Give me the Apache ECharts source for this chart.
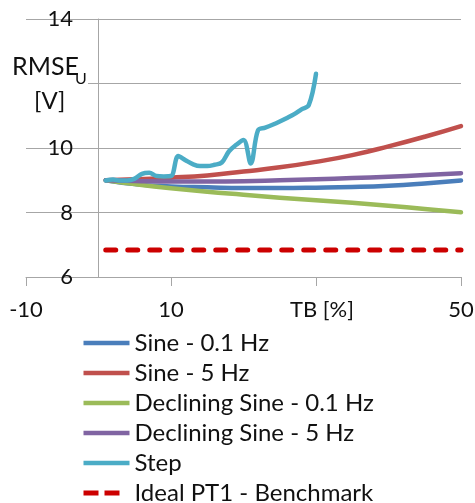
<!DOCTYPE html>
<html>
<head>
<meta charset="utf-8">
<script src="https://cdn.jsdelivr.net/npm/echarts@6/dist/echarts.min.js"></script>
<style>
  html, body { margin: 0; padding: 0; background: #fff; }
  #chart { width: 475px; height: 503px; }
</style>
</head>
<body>
<div id="chart"></div>
<script>
// TB [%] sample positions for the sine-type test signals
const tb = [1, 5, 10, 15, 20, 25, 30, 35, 40, 45, 50];
const sine01 = [9.0, 8.88, 8.81, 8.78, 8.76, 8.76, 8.77, 8.79, 8.83, 8.90, 8.99];
const sine5 = [9.0, 9.03, 9.08, 9.15, 9.27, 9.40, 9.57, 9.78, 10.05, 10.35, 10.68];
const declSine01 = [9.0, 8.88, 8.75, 8.64, 8.55, 8.46, 8.38, 8.30, 8.21, 8.11, 8.01];
const declSine5 = [9.0, 8.98, 8.96, 8.96, 8.97, 9.00, 9.03, 9.07, 9.11, 9.16, 9.22];

// Step response, measured up to TB = 30 %
const stepTb = [1, 2, 3, 4, 5, 6, 7, 8, 9, 10, 11, 12, 13, 14, 15, 16, 17, 18, 19, 20, 21, 22, 23, 24, 25, 26, 27, 28, 29, 30];
const step = [8.99, 9.02, 8.99, 8.99, 9.05, 9.20, 9.23, 9.13, 9.12, 9.13, 9.75, 9.62, 9.50, 9.44, 9.44, 9.48, 9.55, 9.90, 10.10, 10.25, 9.52, 10.55, 10.63, 10.72, 10.82, 10.93, 11.05, 11.20, 11.33, 12.30];

// Ideal PT1 benchmark (constant)
const benchTb = [1, 50];
const bench = [6.84, 6.84];

const seriesNames = ['Sine - 0.1 Hz', 'Sine - 5 Hz', 'Declining Sine - 0.1 Hz', 'Declining Sine - 5 Hz', 'Step', 'Ideal PT1 - Benchmark'];
const xTicks = { '-10': '-10', '10': '10', '30': '{tb|TB [%]}', '50': '50' };

const FONT = 'Lato';
const TXT = '#111';
const GRID_GREY = '#A6A6A6';
const pair = (xs, ys) => xs.map((x, i) => [x, ys[i]]);

const lineSeries = (name, xs, ys, color, smooth) => ({
  name, type: 'line', data: pair(xs, ys), smooth,
  symbol: 'none', showSymbol: false,
  lineStyle: { color, width: 4.5, cap: 'round', join: 'round' },
  itemStyle: { color },
  z: 3
});

const chart = echarts.init(document.getElementById('chart'), null, { renderer: 'canvas' });
chart.setOption({
  animation: false,
  backgroundColor: '#fff',
  textStyle: { fontFamily: FONT },
  grid: { left: 26, right: 14, top: 19, bottom: 226, containLabel: false, outerBoundsMode: 'none' },
  xAxis: {
    type: 'value', min: -10, max: 50, interval: 20,
    axisLine: { onZero: false, lineStyle: { color: GRID_GREY, width: 1 } },
    axisTick: { show: true, length: 9, lineStyle: { color: GRID_GREY } },
    splitLine: { show: false },
    axisLabel: {
      margin: 22, color: TXT, fontSize: 22, fontFamily: FONT,
      formatter: v => xTicks[String(v)] || '',
      rich: { tb: { fontSize: 22, fontFamily: FONT, color: TXT, padding: [0, 0, 0, 12] } }
    }
  },
  yAxis: [
    {
      // value axis crossing at TB = 0, carries the horizontal gridlines
      type: 'value', min: 6, max: 14, interval: 2,
      axisLine: { show: true, onZero: true, lineStyle: { color: GRID_GREY, width: 1 } },
      axisTick: { show: false },
      splitLine: { show: true, lineStyle: { color: GRID_GREY, width: 1 } },
      axisLabel: { show: false }
    },
    {
      // tick labels, right-aligned just left of the crossing axis
      type: 'value', min: 6, max: 14, interval: 2, position: 'left',
      axisLine: { show: false, onZero: false },
      axisTick: { show: false },
      splitLine: { show: false },
      axisLabel: {
        inside: true, align: 'right', margin: 47,
        color: TXT, fontSize: 22, fontFamily: FONT,
        formatter: v => (v === 12 ? '' : String(v))
      }
    }
  ],
  legend: {
    orient: 'vertical', left: 76, top: 323, height: 200,
    itemWidth: 46, itemHeight: 2, itemGap: 0,
    itemStyle: { opacity: 0 },
    lineStyle: { width: 4.5, cap: 'butt' },
    textStyle: { fontSize: 24, fontFamily: FONT, color: TXT, lineHeight: 30 },
    data: seriesNames.map((name, i) => i === 5
      ? { name, lineStyle: { type: [15, 6, 15, 100], cap: 'butt', width: 5 } }
      : { name })
  },
  graphic: [
    { type: 'rect', left: 22, top: 50, shape: { width: 66, height: 66 }, style: { fill: '#fff' }, z: 10 },
    { type: 'text', left: 12, top: 54, z: 11, style: { text: 'RMSE', font: '25px Lato', fill: TXT } },
    { type: 'text', left: 75, top: 71, z: 11, style: { text: 'U', font: '16px Lato', fill: TXT } },
    { type: 'text', left: 34, top: 89, z: 11, style: { text: '[V]', font: '24px Lato', fill: TXT } }
  ],
  series: [
    lineSeries(seriesNames[0], tb, sine01, '#4A7EBB', 0.5),
    lineSeries(seriesNames[1], tb, sine5, '#C0504D', 0.5),
    lineSeries(seriesNames[2], tb, declSine01, '#9BBB59', 0.5),
    lineSeries(seriesNames[3], tb, declSine5, '#8064A2', 0.5),
    lineSeries(seriesNames[4], stepTb, step, '#4BACC6', 0.35),
    {
      name: seriesNames[5], type: 'line', data: pair(benchTb, bench),
      symbol: 'none', showSymbol: false,
      lineStyle: { color: '#CC0000', width: 5, type: [10, 12], cap: 'round' },
      itemStyle: { color: '#CC0000' },
      z: 3
    }
  ]
});
</script>
</body>
</html>
